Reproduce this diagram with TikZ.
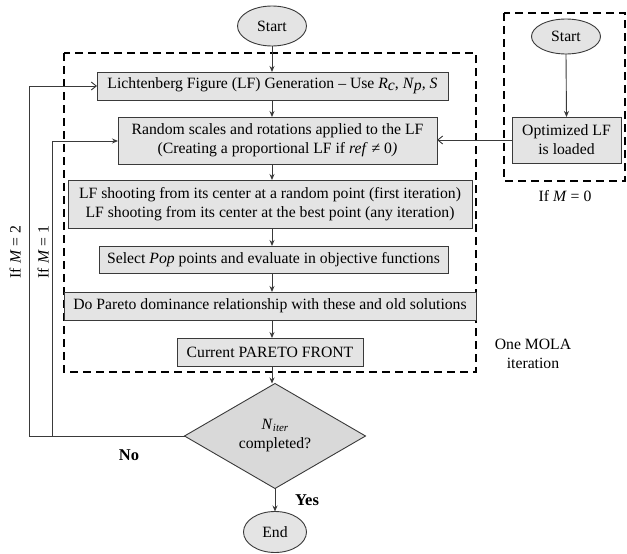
\documentclass[tikz,border=0pt]{standalone}
\usepackage{fontspec}
\setmainfont{Liberation Serif}
\usetikzlibrary{shapes.geometric,arrows.meta}
\definecolor{boxfill}{HTML}{E4E4E4}
\definecolor{dfill}{HTML}{D9D9D9}
\definecolor{linec}{HTML}{3A3A3A}
\begin{document}
\begin{tikzpicture}[x=1pt,y=-1pt,
  font=\fontsize{15.7}{19}\selectfont,
  every node/.style={inner sep=0pt,outer sep=0pt},
  proc/.style={draw=linec,fill=boxfill,line width=0.9pt,rectangle,align=center},
  term/.style={draw=linec,fill=boxfill,line width=0.9pt,ellipse},
  dbox/.style={draw=black,line width=1.6pt,dash pattern=on 8pt off 5pt},
  arr/.style={draw=linec,line width=0.9pt,-{Stealth[length=6pt,width=5pt]}},
  barb/.style={draw=linec,line width=0.9pt,-{Straight Barb[length=5pt,width=8pt]}},
  conn/.style={draw=linec,line width=0.9pt}]
\useasboundingbox (0,0) rectangle (627,554);
% dashed boxes
\draw[dbox] (64,53) rectangle (476,372);
\draw[dbox] (504,13) rectangle (625,181);
% nodes
\node[term,minimum width=69pt,minimum height=40pt] (start) at (272,26) {Start};
\node[proc,minimum width=351pt,minimum height=28pt] (b1) at (272.5,86) {Lichtenberg Figure (LF) Generation -- Use \textit{R}\raisebox{-0.12em}{\textit{c}}, \textit{N}\raisebox{-0.12em}{\textit{p}}, \textit{S}};
\node[proc,minimum width=319pt,minimum height=47pt] (b2) at (277.5,140.5) {Random scales and rotations applied to the LF\\(Creating a proportional LF if \textit{ref} ≠ 0\textit{)}};
\node[proc,minimum width=404pt,minimum height=48pt] (b3) at (270,204) {LF shooting from its center at a random point (first iteration)\\LF shooting from its center at the best point (any iteration)};
\node[proc,minimum width=349pt,minimum height=27pt] (b4) at (273.5,259.5) {Select \textit{Pop} points and evaluate in objective functions};
\node[proc,minimum width=412pt,minimum height=28pt] (b5) at (270,306) {Do Pareto dominance relationship with these and old solutions};
\node[proc,minimum width=186pt,minimum height=28pt] (b6) at (270,352) {Current PARETO FRONT};
\node[draw=linec,fill=dfill,line width=0.9pt,diamond,minimum width=181pt,minimum height=93pt,align=center] (dec) at (275,436) {\textit{N}\raisebox{-0.1em}{\fontsize{11}{12}\selectfont\textit{iter}}\\completed?};
\node[term,minimum width=63pt,minimum height=41pt] (end) at (275,532) {End};
\node[term,minimum width=69pt,minimum height=35pt] (start2) at (566,36.5) {Start};
\node[proc,minimum width=109pt,minimum height=46pt] (opt) at (566.5,140) {Optimized LF\\is loaded};
% labels
\node (lm0) at (565,196) {If \textit{M} = 0};
\node[align=center] (lmola) at (533,354) {One MOLA\\iteration};
\node[rotate=90] (lm2) at (15,252) {If \textit{M} = 2};
\node[rotate=90] (lm1) at (43,252) {If \textit{M} = 1};
\node[font=\fontsize{16.5}{19}\selectfont\bfseries] (lno) at (129,455) {No};
\node[font=\fontsize{16.5}{19}\selectfont\bfseries] (lyes) at (307,500) {Yes};
% coordinates
\coordinate (c1) at (29,436);
\coordinate (c2) at (29,86);
\coordinate (c3) at (52,436);
\coordinate (c4) at (52,141);
% connectors
\draw[arr] (start.south) -- (b1.north -| start.south);
\draw[arr] (b1.south -| start.south) -- (b2.north -| start.south);
\draw[arr] (b2.south -| start.south) -- (b3.north -| start.south);
\draw[arr] (b3.south -| start.south) -- (b4.north -| start.south);
\draw[arr] (b4.south -| start.south) -- (b5.north -| start.south);
\draw[arr] (b5.south -| start.south) -- (b6.north -| start.south);
\draw[arr] (b6.south -| start.south) -- (dec.north -| start.south);
\draw[arr] (dec.south) -- (end.north);
\draw[arr] (start2.south) -- (opt.north);
\draw[barb] (opt.west) -- (b2.east |- opt.west);
\draw[barb] (dec.west) -- (c1) -- (c2) -- (b1.west |- c2);
\draw[arr] (c3) -- (c4) -- (b2.west |- c4);
\end{tikzpicture}
\end{document}
